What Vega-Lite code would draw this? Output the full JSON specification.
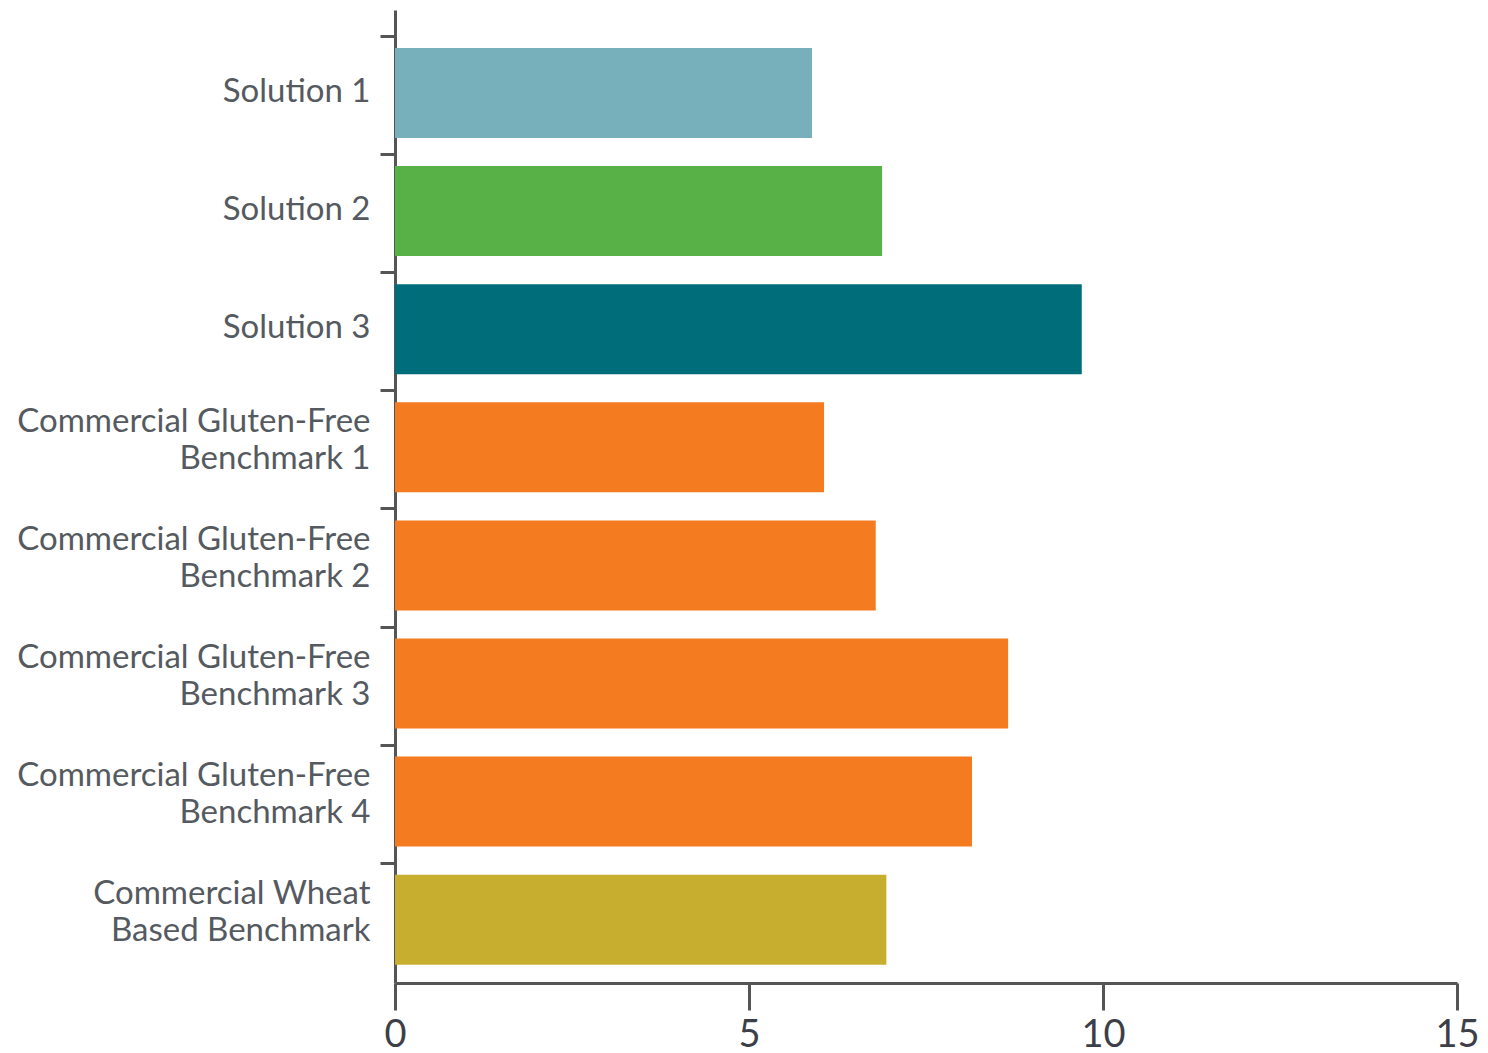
{
  "$schema": "https://vega.github.io/schema/vega-lite/v6.json",
  "autosize": "none",
  "width": 1062,
  "height": 973,
  "padding": {"left": 395, "top": 10, "right": 31, "bottom": 70},
  "background": "white",
  "data": {
    "values": [
      {"product": "Solution 1", "value": 5.89, "group": "Solution 1"},
      {"product": "Solution 2", "value": 6.88, "group": "Solution 2"},
      {"product": "Solution 3", "value": 9.70, "group": "Solution 3"},
      {"product": "Commercial Gluten-Free Benchmark 1", "value": 6.06, "group": "Gluten-Free"},
      {"product": "Commercial Gluten-Free Benchmark 2", "value": 6.79, "group": "Gluten-Free"},
      {"product": "Commercial Gluten-Free Benchmark 3", "value": 8.66, "group": "Gluten-Free"},
      {"product": "Commercial Gluten-Free Benchmark 4", "value": 8.15, "group": "Gluten-Free"},
      {"product": "Commercial Wheat Based Benchmark", "value": 6.94, "group": "Wheat"}
    ]
  },
  "mark": {"type": "bar"},
  "encoding": {
    "y": {
      "field": "product",
      "type": "nominal",
      "sort": null,
      "scale": {"paddingInner": 0.238, "paddingOuter": 0.2385, "align": 0.675},
      "axis": {
        "title": null,
        "tickBand": "center",
        "tickOffset": -57,
        "domainColor": "#555555",
        "domainWidth": 3,
        "tickColor": "#555555",
        "tickWidth": 3,
        "tickSize": 15,
        "labelPadding": 10,
        "labelFont": "Lato",
        "labelFontSize": 33,
        "labelColor": "#555a60",
        "labelLineHeight": 37,
        "labelLimit": 500,
        "labelOffset": {"condition": {"test": "indexof(datum.label, 'Commercial') >= 0", "value": 31}, "value": 55},
        "labelExpr": "datum.label == 'Commercial Wheat Based Benchmark' ? ['Commercial Wheat', 'Based Benchmark'] : indexof(datum.label, 'Gluten-Free') > 0 ? ['Commercial Gluten-Free', replace(datum.label, 'Commercial Gluten-Free ', '')] : datum.label"
      }
    },
    "x": {
      "field": "value",
      "type": "quantitative",
      "scale": {"domain": [0, 15], "nice": false},
      "axis": {
        "title": null,
        "values": [0, 5, 10, 15],
        "grid": false,
        "domainColor": "#555555",
        "domainWidth": 3,
        "tickColor": "#555555",
        "tickWidth": 3,
        "tickSize": 27,
        "labelPadding": 6,
        "labelFont": "Lato",
        "labelFontSize": 38,
        "labelColor": "#3c3f48",
        "labelFlush": false
      }
    },
    "color": {
      "field": "group",
      "type": "nominal",
      "scale": {
        "domain": ["Solution 1", "Solution 2", "Solution 3", "Gluten-Free", "Wheat"],
        "range": ["#77AFBB", "#57B147", "#006E7A", "#F47B20", "#C8AE2F"]
      },
      "legend": null
    }
  },
  "config": {"view": {"stroke": null}}
}
